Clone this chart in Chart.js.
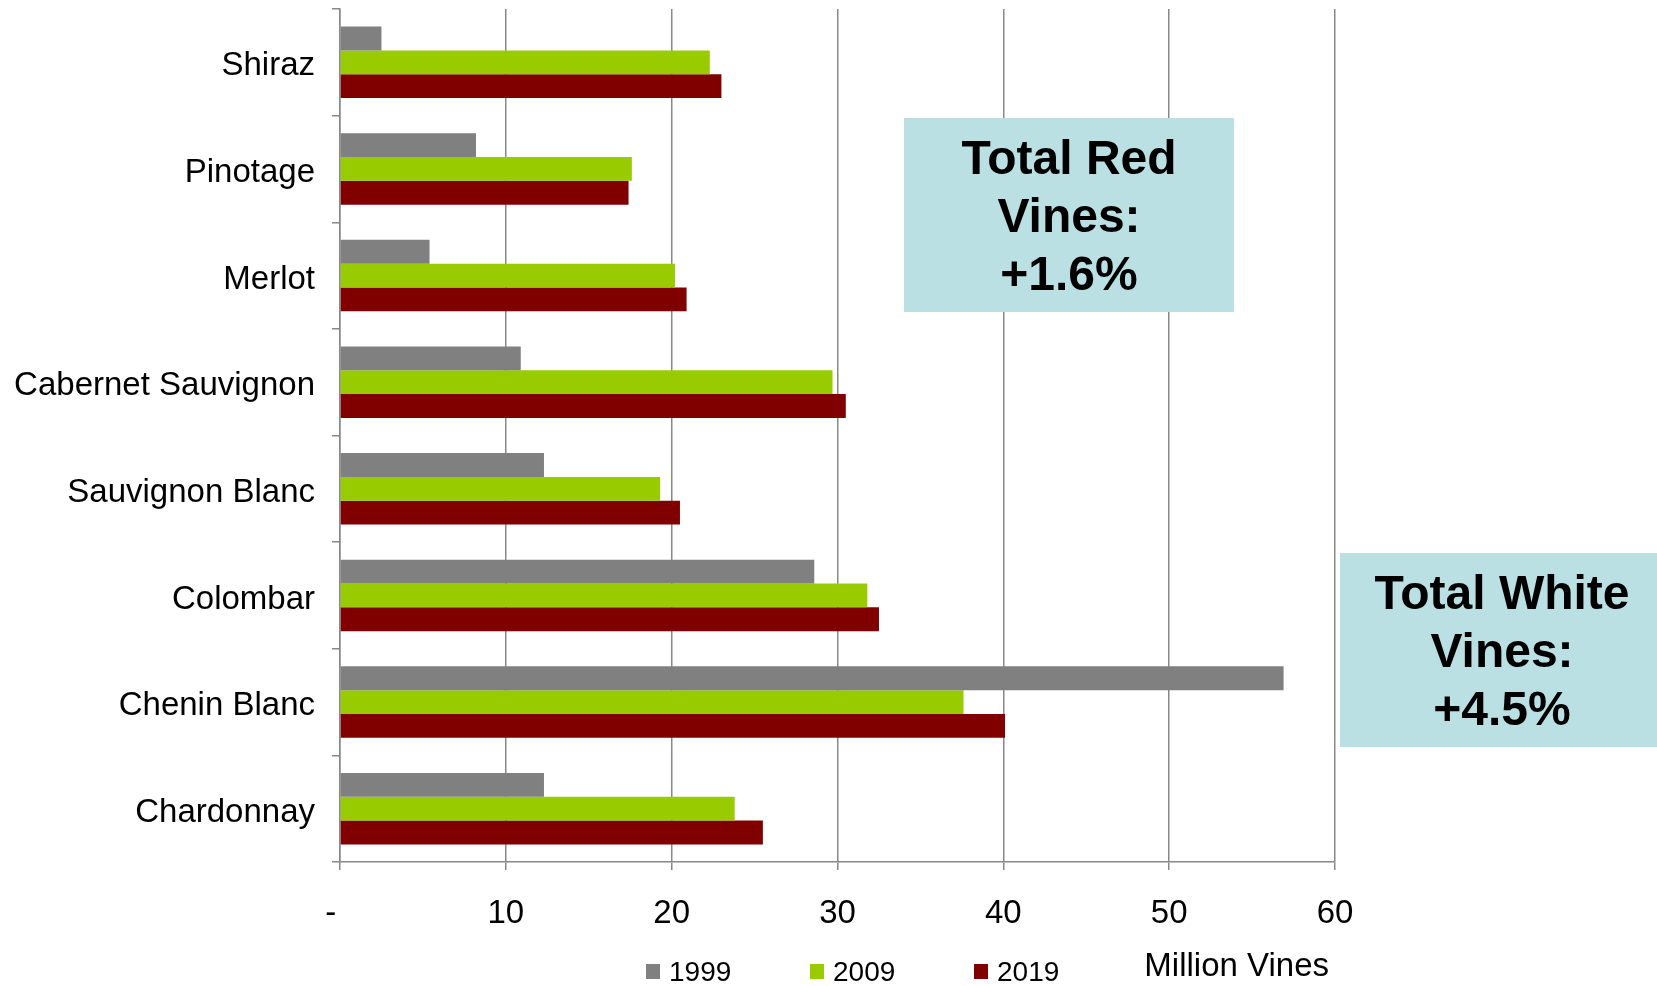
<!DOCTYPE html>
<html><head><meta charset="utf-8">
<script src="https://cdn.jsdelivr.net/npm/chart.js@4/dist/chart.umd.min.js"></script>
<style>html,body{margin:0;padding:0;background:#fff;} canvas{display:block;}</style>
</head><body>
<canvas id="c" width="1657" height="986"></canvas>
<script>
// ---- data ----
const categories = ['Shiraz', 'Pinotage', 'Merlot', 'Cabernet Sauvignon', 'Sauvignon Blanc', 'Colombar', 'Chenin Blanc', 'Chardonnay'];
const seriesLabels = ['1999', '2009', '2019'];
const values1999 = [2.5, 8.2, 5.4, 10.9, 12.3, 28.6, 56.9, 12.3];
const values2009 = [22.3, 17.6, 20.2, 29.7, 19.3, 31.8, 37.6, 23.8];
const values2019 = [23.0, 17.4, 20.9, 30.5, 20.5, 32.5, 40.1, 25.5];
const seriesColors = ['#808080', '#99CC00', '#800000'];
const xMin = 0, xMax = 60, xStep = 10;
const axisTitle = 'Million Vines';
const redNote = ['Total Red', 'Vines:', '+1.6%'];
const whiteNote = ['Total White', 'Vines:', '+4.5%'];

const FONT = '"Liberation Sans", Arial, Helvetica, sans-serif';
Chart.defaults.font.family = FONT;
Chart.defaults.color = '#000';
const GRID = '#888888';

const overlay = {
  id: 'overlay',
  afterDraw(chart) {
    const ctx = chart.ctx;
    ctx.save();
    // annotation boxes
    const boxes = [
      {x: 904, y: 118, w: 330, h: 194, cx: 1069, lines: redNote},
      {x: 1340, y: 553, w: 317, h: 194, cx: 1502, lines: whiteNote}
    ];
    boxes.forEach(b => {
      ctx.fillStyle = '#BAE0E4';
      ctx.fillRect(b.x, b.y, b.w, b.h);
      ctx.fillStyle = '#000';
      ctx.font = 'bold 48px ' + FONT;
      ctx.textAlign = 'center';
      ctx.textBaseline = 'middle';
      const cy = b.y + b.h / 2 + 4;
      b.lines.forEach((t, i) => ctx.fillText(t, b.cx, cy + (i - 1) * 58));
    });
    // legend
    ctx.font = '28px ' + FONT;
    ctx.textAlign = 'left';
    ctx.textBaseline = 'middle';
    const startX = 646, step = 164, ly = 972;
    chart.data.datasets.forEach((ds, i) => {
      const x = startX + i * step;
      ctx.fillStyle = ds.backgroundColor;
      ctx.fillRect(x, ly - 8, 14, 15);
      ctx.fillStyle = '#000';
      ctx.fillText(ds.label, x + 23, ly + 1);
    });
    // axis title
    ctx.font = '33px ' + FONT;
    ctx.textAlign = 'right';
    ctx.fillText(axisTitle, chart.scales.x.right - 6, 967);
    ctx.restore();
  }
};

new Chart(document.getElementById('c'), {
  type: 'bar',
  data: {
    labels: categories,
    datasets: [
      {label: seriesLabels[0], data: values1999, backgroundColor: seriesColors[0]},
      {label: seriesLabels[1], data: values2009, backgroundColor: seriesColors[1]},
      {label: seriesLabels[2], data: values2019, backgroundColor: seriesColors[2]}
    ]
  },
  options: {
    indexAxis: 'y',
    responsive: false,
    animation: false,
    categoryPercentage: 0.67,
    barPercentage: 1.0,
    layout: {padding: {left: 0, right: 322, top: 9, bottom: 0}},
    plugins: {legend: {display: false}, tooltip: {enabled: false}},
    scales: {
      x: {
        min: xMin, max: xMax,
        ticks: {
          stepSize: xStep,
          font: {size: 33},
          color: '#000',
          padding: 24,
          callback: v => (v === 0 ? '-  ' : v)
        },
        grid: {color: GRID, lineWidth: 1.5, tickLength: 8, drawTicks: true},
        border: {display: true, color: GRID, width: 1.5},
        afterFit: s => { s.height = 124; }
      },
      y: {
        ticks: {font: {size: 33}, color: '#000', padding: 17, labelOffset: 4},
        grid: {drawOnChartArea: false, drawTicks: true, tickLength: 8, color: GRID, lineWidth: 1.5},
        border: {display: true, color: GRID, width: 1.5},
        afterFit: s => { s.width = 340; s.paddingTop = 0; s.paddingBottom = 0; }
      }
    }
  },
  plugins: [overlay]
});
</script>
</body></html>
